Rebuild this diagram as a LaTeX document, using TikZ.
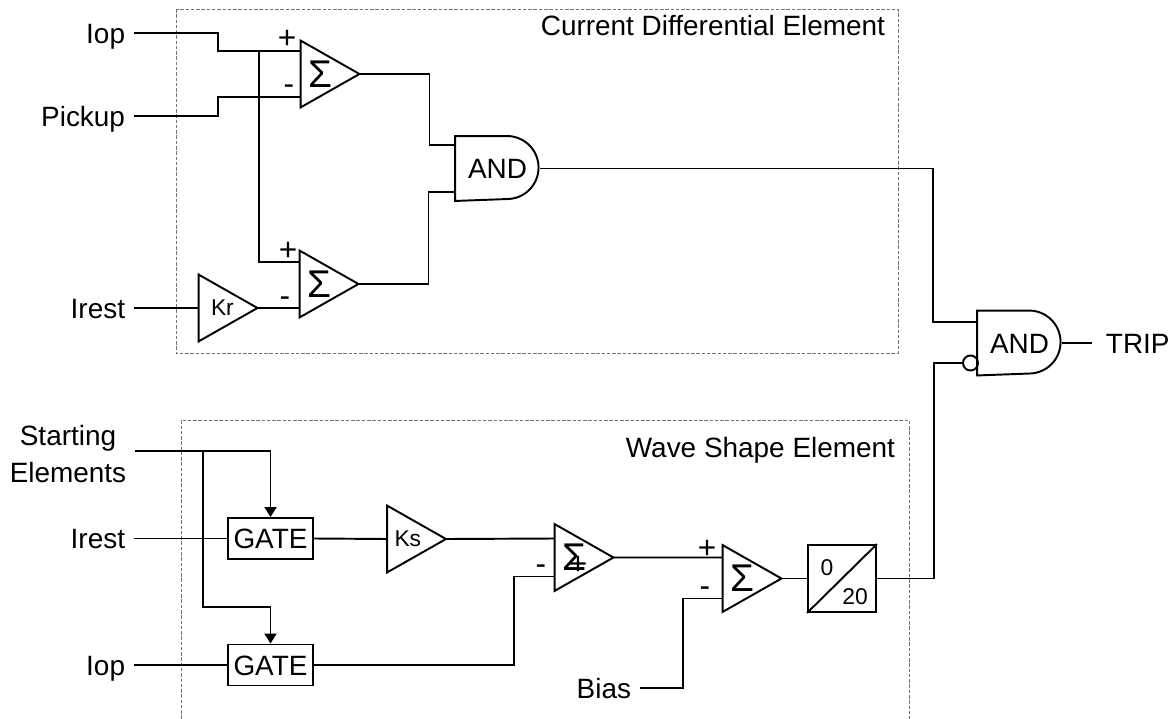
\documentclass[tikz,border=0pt]{standalone}
\usepackage{fontspec}
\setmainfont{Liberation Sans}
\usetikzlibrary{arrows.meta,positioning}

\begin{document}
\begin{tikzpicture}[x=0.02cm,y=-0.02cm,line width=1.1pt]
        \tikzstyle{every node}=[font=\fontsize{15.9}{21.5}\selectfont,inner sep=0pt]
        \tikzstyle{txt}=[text height=11.4pt,text depth=0pt]
        \tikzstyle{lbl}=[txt,inner xsep=0.16cm]
        \tikzstyle{sign}=[font=\fontsize{18}{20}\selectfont,text height=12.9pt,text depth=0pt]
        \tikzstyle{smalltxt}=[font=\fontsize{13}{15}\selectfont]
        \tikzstyle{amp}=[minimum width=1.14cm,minimum height=1.3cm,text width=0.88cm,align=left,font=\fontsize{22}{24}\selectfont]
        \tikzstyle{gain}=[amp,smalltxt]
        \tikzstyle{gatebox}=[draw,txt,minimum width=1.7cm,minimum height=0.82cm]
        \tikzstyle{andbox}=[txt,minimum width=1.66cm,minimum height=1.26cm]
        \tikzstyle{dbox}=[draw=black!55,line width=0.5pt,dash pattern=on 2pt off 1pt]
        \tikzstyle{arr}=[-{Triangle[length=0.2cm,width=0.24cm]}]

        \useasboundingbox (0,0) rectangle (1172,719);

        %%% Current differential element
        \draw[dbox] (176,9) rectangle (898,353);
        \node[txt,anchor=east] (cdtitle) at (886,25) {Current Differential Element};

        \node[lbl,anchor=east] (iop1) at (134,33) {Iop};
        \node[lbl,anchor=east] (pick) at (134,116) {Pickup};
        \node[lbl,anchor=east] (irest1) at (134,308) {Irest};

        \node[amp] (s1) at (330,74) {Σ};
        \node[amp] (s2) at (329,284) {Σ};
        \node[gain,text width=0.68cm] (kr) at (228,308) {Kr};
        \node[andbox] (and1) at (497.5,168.5) {AND};

        \node[sign] (p1) at (287,37) {+};
        \node[sign] (m1) at (289,83) {-};
        \node[sign] (p2) at (288,249) {+};
        \node[sign] (m2) at (285,295) {-};

        \coordinate (j1) at (259,51);

        \draw (iop1.east) -- ++(84,0) |- ([yshift=0.46cm]s1.west);
        \draw (pick.east) -- ++(84,0) |- ([yshift=-0.46cm]s1.west);
        \draw (j1) |- ([yshift=0.44cm]s2.west);
        \draw (irest1.east) -- (kr.west);
        \draw (kr.east) -- ([yshift=-0.48cm]s2.west);
        \draw (s1.east) -- ++(70,0) |- ([yshift=0.47cm]and1.west);
        \draw (s2.east) -- ++(70,0) |- ([yshift=-0.47cm]and1.west);

        %%% Trip logic
        \node[andbox] (and2) at (1019.5,343) {AND};
        \node[circle,draw,minimum size=0.3cm] (inv) at (970.5,363) {};
        \node[lbl,inner xsep=0.26cm,anchor=west] (trip) at (1092,343) {TRIP};

        \draw (and1.east) -- ++(393,0) |- ([yshift=0.42cm]and2.west);
        \draw (and2.east) -- (trip.west);

        %%% Wave shape element
        \draw[dbox] (181,740) |- (909,420) -- (909,740);
        \node[txt,anchor=east] (wstitle) at (896,447) {Wave Shape Element};

        \node[inner xsep=0.16cm,align=center] (start) at (68,454) {Starting\\Elements};
        \node[lbl,anchor=east] (irest2) at (134,538.5) {Irest};
        \node[lbl,anchor=east] (iop2) at (134,665) {Iop};

        \node[gatebox] (gate1) at (270.5,538.5) {GATE};
        \node[gatebox] (gate2) at (270.5,665) {GATE};
        \node[gain] (ks) at (416.5,539) {Ks};
        \node[amp] (s3) at (584,557.5) {Σ};
        \node[amp] (s4) at (752,578.5) {Σ};
        \node[draw,minimum width=1.36cm,minimum height=1.34cm] (tmr) at (842,578.5) {};
        \node[smalltxt] (t0) at (827,568) {0};
        \node[smalltxt] (t20) at (855,597) {20};
        \node[lbl,anchor=east] (bias) at (640,688) {Bias};

        \node[sign] (m3) at (541,563) {-};
        \node[sign] (p3) at (578,563) {+};
        \node[sign] (p4) at (707,547) {+};
        \node[sign] (m4) at (705,585) {-};

        \coordinate (j2) at (203,451);

        \draw[arr] (start.east |- j2) -| (gate1.north);
        \draw[arr] (j2) |- ([yshift=0.74cm]gate2.north) -- (gate2.north);
        \draw (irest2.east) -- (gate1.west);
        \draw (iop2.east) -- (gate2.west);
        \draw (gate1.east) -- (ks.west);
        \draw (ks.east) -- ([yshift=0.38cm]s3.west);
        \draw (gate2.east) -- ++(200,0) |- ([yshift=-0.38cm]s3.west);
        \draw (s3.east) -- ([yshift=0.42cm]s4.west);
        \draw (bias.east) -- ++(43,0) |- ([yshift=-0.4cm]s4.west);
        \draw (s4.east) -- (tmr.west);
        \draw (tmr.south west) -- (tmr.north east);
        \draw (tmr.east) -- ++(57,0) |- (inv.west);

        % triangles and gate outlines
        \foreach \n in {s1,s2,s3,s4,kr,ks}
            \draw[line join=miter] (\n.north west) -- (\n.east) -- (\n.south west) -- cycle;
        \foreach \n in {and1,and2}
            \draw (\n.north west) -- ++(52,0) arc[start angle=-90,end angle=90,radius=31.5] -- (\n.south west) -- cycle;
\end{tikzpicture}
\end{document}
